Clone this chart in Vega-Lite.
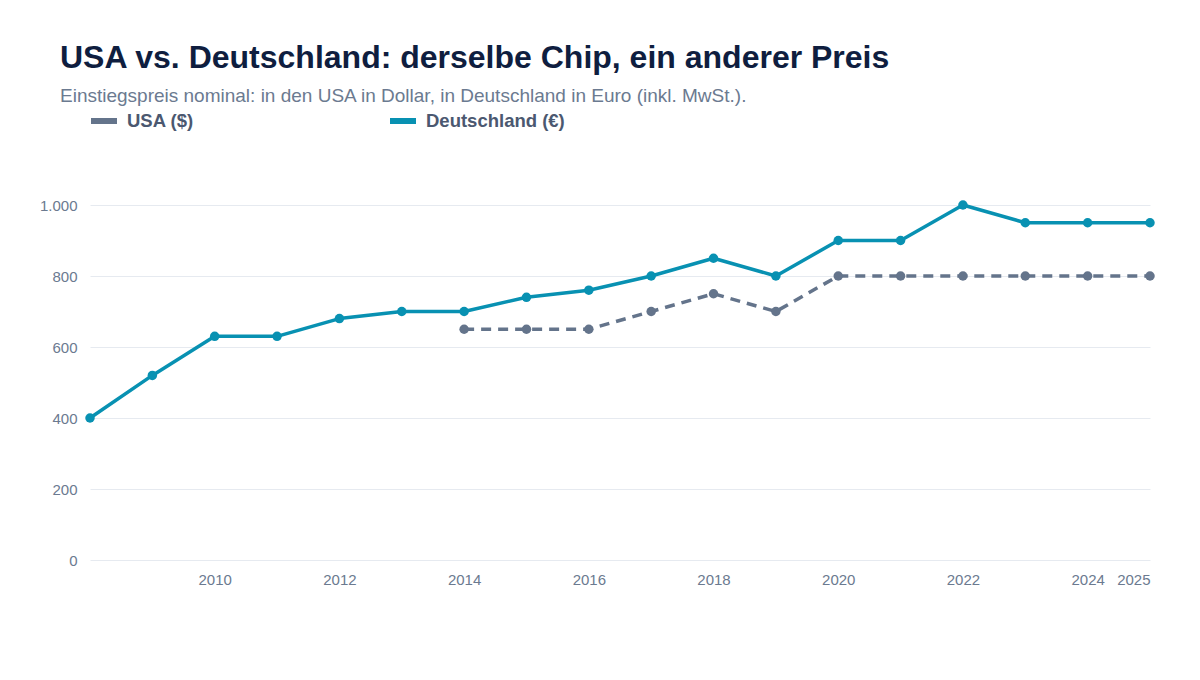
{
  "$schema": "https://vega.github.io/schema/vega-lite/v6.json",
  "autosize": {"type": "none"},
  "width": 1060,
  "height": 355,
  "padding": {"left": 90, "top": 205, "right": 50, "bottom": 120},
  "background": "white",
  "title": {
    "text": "USA vs. Deutschland: derselbe Chip, ein anderer Preis",
    "subtitle": "Einstiegspreis nominal: in den USA in Dollar, in Deutschland in Euro (inkl. MwSt.).",
    "anchor": "start",
    "frame": "group",
    "dx": -30,
    "dy": 3,
    "offset": 1,
    "font": "Liberation Sans",
    "fontSize": 32,
    "fontWeight": "bold",
    "color": "#0f1e3f",
    "subtitleFont": "Liberation Sans",
    "subtitleFontSize": 19,
    "subtitleColor": "#6b7a90",
    "subtitlePadding": 12
  },
  "data": {
    "values": [
      {"land": "Deutschland (€)", "jahr": 2008, "preis": 400},
      {"land": "Deutschland (€)", "jahr": 2009, "preis": 520},
      {"land": "Deutschland (€)", "jahr": 2010, "preis": 630},
      {"land": "Deutschland (€)", "jahr": 2011, "preis": 630},
      {"land": "Deutschland (€)", "jahr": 2012, "preis": 680},
      {"land": "Deutschland (€)", "jahr": 2013, "preis": 700},
      {"land": "Deutschland (€)", "jahr": 2014, "preis": 700},
      {"land": "Deutschland (€)", "jahr": 2015, "preis": 740},
      {"land": "Deutschland (€)", "jahr": 2016, "preis": 760},
      {"land": "Deutschland (€)", "jahr": 2017, "preis": 800},
      {"land": "Deutschland (€)", "jahr": 2018, "preis": 850},
      {"land": "Deutschland (€)", "jahr": 2019, "preis": 800},
      {"land": "Deutschland (€)", "jahr": 2020, "preis": 900},
      {"land": "Deutschland (€)", "jahr": 2021, "preis": 900},
      {"land": "Deutschland (€)", "jahr": 2022, "preis": 1000},
      {"land": "Deutschland (€)", "jahr": 2023, "preis": 950},
      {"land": "Deutschland (€)", "jahr": 2024, "preis": 950},
      {"land": "Deutschland (€)", "jahr": 2025, "preis": 950},
      {"land": "USA ($)", "jahr": 2014, "preis": 650},
      {"land": "USA ($)", "jahr": 2015, "preis": 650},
      {"land": "USA ($)", "jahr": 2016, "preis": 650},
      {"land": "USA ($)", "jahr": 2017, "preis": 700},
      {"land": "USA ($)", "jahr": 2018, "preis": 750},
      {"land": "USA ($)", "jahr": 2019, "preis": 700},
      {"land": "USA ($)", "jahr": 2020, "preis": 800},
      {"land": "USA ($)", "jahr": 2021, "preis": 800},
      {"land": "USA ($)", "jahr": 2022, "preis": 800},
      {"land": "USA ($)", "jahr": 2023, "preis": 800},
      {"land": "USA ($)", "jahr": 2024, "preis": 800},
      {"land": "USA ($)", "jahr": 2025, "preis": 800}
    ]
  },
  "encoding": {
    "x": {
      "field": "jahr",
      "type": "quantitative",
      "scale": {"domain": [2008, 2025], "zero": false, "nice": false},
      "axis": {
        "title": null,
        "values": [2010, 2012, 2014, 2016, 2018, 2020, 2022, 2024, 2025],
        "format": "d",
        "grid": false,
        "domain": false,
        "ticks": false,
        "labelPadding": 12,
        "labelFont": "Liberation Sans",
        "labelFontSize": 15,
        "labelColor": "#6b7a90"
      }
    },
    "y": {
      "field": "preis",
      "type": "quantitative",
      "scale": {"domain": [0, 1000], "nice": false},
      "axis": {
        "title": null,
        "values": [0, 200, 400, 600, 800, 1000],
        "format": ",d",
        "domain": false,
        "ticks": false,
        "gridColor": "#e6eaf0",
        "gridWidth": 1,
        "labelPadding": 13,
        "labelFont": "Liberation Sans",
        "labelFontSize": 15,
        "labelColor": "#6b7a90"
      }
    },
    "color": {
      "field": "land",
      "type": "nominal",
      "scale": {"domain": ["USA ($)", "Deutschland (€)"], "range": ["#64748b", "#0891b2"]},
      "legend": {
        "title": null,
        "orient": "none",
        "legendX": -2,
        "legendY": -100,
        "direction": "horizontal",
        "columns": 2,
        "columnPadding": 184,
        "symbolType": "stroke",
        "symbolStrokeWidth": 6,
        "symbolSize": 676,
        "labelFont": "Liberation Sans",
        "labelFontSize": 18.5,
        "labelFontWeight": "bold",
        "labelColor": "#4b5870",
        "labelOffset": 7
      }
    }
  },
  "layer": [
    {
      "transform": [{"filter": "datum.land === 'Deutschland (€)'"}],
      "mark": {
        "type": "line",
        "strokeWidth": 3.5,
        "strokeJoin": "round",
        "point": {"filled": true, "size": 90, "opacity": 1}
      }
    },
    {
      "transform": [{"filter": "datum.land === 'USA ($)'"}],
      "mark": {
        "type": "line",
        "strokeWidth": 3.5,
        "strokeJoin": "round",
        "strokeDash": [10, 7],
        "point": {"filled": true, "size": 90, "opacity": 1}
      }
    }
  ],
  "config": {
    "view": {"stroke": null},
    "locale": {"number": {"decimal": ",", "thousands": ".", "grouping": [3], "currency": ["", " €"]}}
  }
}
